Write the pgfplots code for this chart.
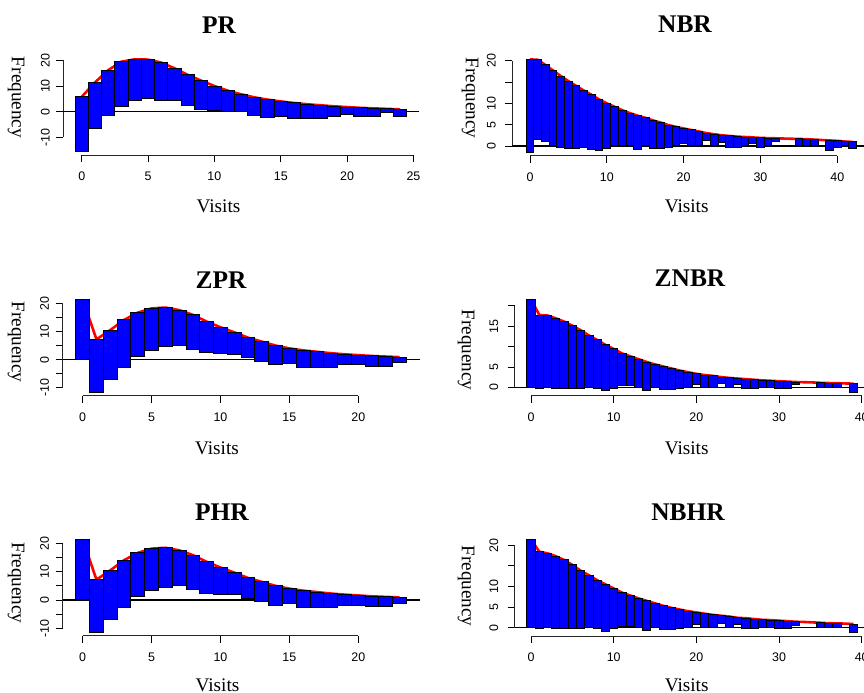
\documentclass[border=0pt]{standalone}
\usepackage{fontspec}
\setmainfont{Liberation Serif}
\newfontfamily\tickfont{Liberation Sans}
\usepackage{pgfplots}
\pgfplotsset{compat=1.18}
\usepackage{pgfplotstable}

\pgfplotstableread{
k top bot
0 5.8 -15.6
1 11.4 -6.5
2 16.2 -1.3
3 19.5 1.9
4 20.4 4.5
5 20.3 5.2
6 19.1 4.5
7 16.9 4.2
8 14.3 2.6
9 12.1 1.0
10 10.0 0.6
11 8.2 0.0
12 6.8 0.0
13 5.6 -1.3
14 4.7 -2.2
15 4.0 -1.7
16 3.4 -2.7
17 2.9 -2.7
18 2.5 -2.7
19 2.1 -1.7
20 1.8 -0.9
21 1.5 -1.7
22 1.3 -1.7
23 1.1 -0.4
24 0.9 -1.7
}\PRtab

\pgfplotstableread{
k top bot
0 20.3 -1.5
1 20.2 1.6
2 19.0 1.0
3 17.7 0.0
4 16.4 -0.3
5 15.2 -0.5
6 14.1 -0.5
7 13.0 -0.3
8 12.0 -0.8
9 10.9 -1.1
10 10.0 -0.5
11 9.2 0.0
12 8.4 0.2
13 7.7 0.0
14 7.1 -0.8
15 6.6 0.0
16 6.0 -0.5
17 5.5 -0.5
18 4.9 -0.3
19 4.5 0.0
20 4.1 0.6
21 3.75 0.2
22 3.4 0.2
23 3.0 1.4
24 2.75 0.0
25 2.5 0.8
26 2.35 -0.3
27 2.2 -0.3
28 2.1 0.2
29 2.0 0.5
30 1.9 -0.3
31 1.85 0.0
32 1.8 1.0
33 1.75 1.75
34 1.7 1.7
35 1.65 0.2
36 1.6 0.2
37 1.5 0.2
38 1.4 1.4
39 1.3 -1.1
40 1.2 -0.4
41 1.05 0.2
42 0.95 -0.5
}\NBRtab

\pgfplotstableread{
k top bot
0 21.4 0.0
1 7.2 -11.7
2 10.5 -6.9
3 14.1 -2.7
4 16.7 1.2
5 18.2 3.2
6 18.5 4.6
7 17.6 5.1
8 15.9 3.7
9 13.5 2.4
10 11.5 2.1
11 9.7 1.8
12 7.8 0.7
13 6.4 -0.6
14 5.0 -1.9
15 4.0 -1.4
16 3.3 -2.7
17 2.8 -2.7
18 2.3 -2.7
19 1.9 -1.9
20 1.6 -1.9
21 1.3 -2.4
22 1.1 -2.4
23 0.9 -1.1
}\ZPRtab

\pgfplotstableread{
k top bot
0 21.6 0.0
1 17.7 -0.25
2 17.6 0.0
3 16.9 -0.25
4 16.1 -0.25
5 15.1 -0.25
6 14.0 -0.25
7 12.7 0.0
8 11.6 -0.25
9 10.4 -0.8
10 9.4 -0.25
11 8.3 0.4
12 7.6 0.4
13 6.9 0.0
14 6.2 -0.7
15 5.6 0.0
16 5.1 -0.5
17 4.6 -0.5
18 4.1 -0.25
19 3.7 0.0
20 3.3 0.7
21 3.0 0.0
22 2.8 0.0
23 2.5 1.0
24 2.3 0.0
25 2.15 0.7
26 2.0 -0.3
27 1.85 -0.3
28 1.7 0.0
29 1.6 0.0
30 1.5 -0.3
31 1.4 -0.3
32 1.3 0.6
33 1.25 1.25
34 1.2 1.2
35 1.1 0.0
36 1.05 0.0
37 1.0 0.0
38 0.95 0.95
39 0.9 -1.15
}\ZNBRtab

\pgfplotstableread{
k top bot
0 21.5 0.0
1 7.2 -11.6
2 10.5 -6.9
3 14.1 -2.7
4 16.7 1.2
5 18.2 3.2
6 18.5 4.6
7 17.6 5.1
8 15.9 3.7
9 13.5 2.4
10 11.5 2.1
11 9.7 1.8
12 7.8 0.7
13 6.4 -0.6
14 5.0 -1.9
15 4.0 -1.4
16 3.3 -2.7
17 2.8 -2.7
18 2.3 -2.7
19 1.9 -1.9
20 1.6 -1.9
21 1.3 -2.4
22 1.1 -2.4
23 0.9 -1.1
}\PHRtab

\pgfplotstableread{
k top bot
0 21.4 0.0
1 18.4 -0.25
2 18.0 0.0
3 17.3 -0.25
4 16.4 -0.25
5 15.2 -0.25
6 13.8 -0.25
7 12.7 0.0
8 11.5 -0.25
9 10.5 -0.8
10 9.5 -0.25
11 8.5 0.4
12 7.8 0.4
13 7.1 0.0
14 6.5 -0.7
15 5.9 0.0
16 5.3 -0.5
17 4.8 -0.5
18 4.4 -0.25
19 4.0 0.0
20 3.7 0.7
21 3.4 0.0
22 3.1 0.0
23 2.9 1.0
24 2.7 0.0
25 2.4 0.7
26 2.3 -0.3
27 2.1 -0.3
28 1.9 0.0
29 1.85 0.0
30 1.7 -0.3
31 1.6 -0.3
32 1.45 0.6
33 1.4 1.4
34 1.3 1.3
35 1.2 0.0
36 1.1 0.0
37 1.05 0.0
38 1.0 1.0
39 0.9 -1.2
}\NBHRtab

\tikzset{
  axline/.style={black!85, line width=0.9bp},
  zeroline/.style={black, line width=1.2bp},
}
\pgfplotsset{
  rootax/.style={
    scale only axis, anchor=south west,
    ybar stacked, stack negative=on previous, bar width=1, bar shift=0pt,
    enlargelimits=false,
    axis x line*=bottom, axis y line*=left,
    axis line style={draw=none},
    tick align=outside, major tick length=7bp,
    tick style={black, line width=0.8bp},
    minor tick num=0,
    scaled ticks=false,
    /pgf/number format/assume math mode=true,
    tick label style={font=\tickfont\fontsize{12.5}{14}\selectfont},
    xticklabel style={anchor=north, inner sep=0pt, yshift=-10bp},
    clip=false,
  },
  leftax/.style={yticklabel style={xshift=-6.4bp, rotate=90, anchor=south, inner sep=0pt}},
  rightax/.style={yticklabel style={xshift=-9bp, rotate=90, anchor=south, inner sep=0pt}},
  barbase/.style={draw=none, fill=none},
  barhang/.style={fill=blue, draw=black, line width=1bp},
  fitline/.style={red, line width=2.6bp, sharp plot, stack plots=false, mark=none},
}
\newcommand{\ttl}[1]{\bfseries\fontsize{25.5}{28}\selectfont #1}
\newcommand{\lbl}{\fontsize{19.3}{22}\selectfont}

\begin{document}
\begin{tikzpicture}[x=1bp, y=1bp]
\begin{scope}
\clip (0,0) rectangle (864,693);

% PR
\begin{axis}[rootax, leftax, at={(63.4bp,537.9bp)}, width=355.1bp, height=99.1bp,
  xmin=-1.38, xmax=25.38, ymin=-16.9, ymax=21.7,
  xtick={0,5,...,25}, ytick={-10,0,10,20}]
\addplot[barbase] table[x=k, y=bot] {\PRtab};
\addplot[barhang] table[x=k, y expr=\thisrow{top}-\thisrow{bot}] {\PRtab};
\addplot[fitline] table[x=k, y=top] {\PRtab};
\draw[zeroline] (axis cs:-1.38,0) -- (axis cs:25.38,0);
\draw[axline] (axis cs:0,-16.9) -- (axis cs:25,-16.9);
\draw[axline] (axis cs:-1.38,-10) -- (axis cs:-1.38,20);
\end{axis}

% NBR
\begin{axis}[rootax, rightax, at={(512bp,537.3bp)}, width=358.6bp, height=99.6bp,
  xmin=-2.34, xmax=44.34, ymin=-2.27, ymax=21.07,
  xtick={0,10,...,40}, ytick={0,5,10,15,20}, yticklabels={0,5,10,,20}]
\addplot[barbase] table[x=k, y=bot] {\NBRtab};
\addplot[barhang] table[x=k, y expr=\thisrow{top}-\thisrow{bot}] {\NBRtab};
\addplot[fitline] table[x=k, y=top] {\NBRtab};
\draw[zeroline] (axis cs:-2.34,0) -- (axis cs:44.34,0);
\draw[axline] (axis cs:0,-2.27) -- (axis cs:40,-2.27);
\draw[axline] (axis cs:-2.34,0) -- (axis cs:-2.34,20);
\end{axis}

% ZPR
\begin{axis}[rootax, leftax, at={(62.7bp,297.3bp)}, width=356.9bp, height=99.4bp,
  xmin=-1.45, xmax=24.45, ymin=-12.8, ymax=22.5,
  xtick={0,5,...,20}, ytick={-10,-5,...,20}, yticklabels={-10,,0,,10,,20}]
\addplot[barbase] table[x=k, y=bot] {\ZPRtab};
\addplot[barhang] table[x=k, y expr=\thisrow{top}-\thisrow{bot}] {\ZPRtab};
\addplot[fitline] table[x=k, y=top] {\ZPRtab};
\draw[zeroline] (axis cs:-1.45,0) -- (axis cs:24.45,0);
\draw[axline] (axis cs:0,-12.8) -- (axis cs:20,-12.8);
\draw[axline] (axis cs:-1.45,-10) -- (axis cs:-1.45,20);
\end{axis}

% ZNBR
\begin{axis}[rootax, rightax, at={(514.5bp,297.1bp)}, width=355.5bp, height=100.6bp,
  xmin=-2.0, xmax=41.0, ymin=-2.1, ymax=22.55,
  xtick={0,10,...,40}, ytick={0,5,10,15,20}, yticklabels={0,5,,15,}]
\addplot[barbase] table[x=k, y=bot] {\ZNBRtab};
\addplot[barhang] table[x=k, y expr=\thisrow{top}-\thisrow{bot}] {\ZNBRtab};
\addplot[fitline] table[x=k, y=top] {\ZNBRtab};
\draw[zeroline] (axis cs:-2.0,0) -- (axis cs:41.0,0);
\draw[axline] (axis cs:0,-2.1) -- (axis cs:40,-2.1);
\draw[axline] (axis cs:-2.0,0) -- (axis cs:-2.0,20);
\end{axis}

% PHR
\begin{axis}[rootax, leftax, at={(62.7bp,57.3bp)}, width=356.9bp, height=99.2bp,
  xmin=-1.45, xmax=24.45, ymin=-12.65, ymax=22.5,
  xtick={0,5,...,20}, ytick={-10,-5,...,20}, yticklabels={-10,,0,,10,,20}]
\addplot[barbase] table[x=k, y=bot] {\PHRtab};
\addplot[barhang] table[x=k, y expr=\thisrow{top}-\thisrow{bot}] {\PHRtab};
\addplot[fitline] table[x=k, y=top] {\PHRtab};
\draw[zeroline] (axis cs:-1.45,0) -- (axis cs:24.45,0);
\draw[axline] (axis cs:0,-12.65) -- (axis cs:20,-12.65);
\draw[axline] (axis cs:-1.45,-10) -- (axis cs:-1.45,20);
\end{axis}

% NBHR
\begin{axis}[rootax, rightax, at={(514.5bp,57bp)}, width=355.5bp, height=100bp,
  xmin=-2.0, xmax=41.0, ymin=-2.0, ymax=22.2,
  xtick={0,10,...,40}, ytick={0,5,10,15,20}, yticklabels={0,5,10,,20}]
\addplot[barbase] table[x=k, y=bot] {\NBHRtab};
\addplot[barhang] table[x=k, y expr=\thisrow{top}-\thisrow{bot}] {\NBHRtab};
\addplot[fitline] table[x=k, y=top] {\NBHRtab};
\draw[zeroline] (axis cs:-2.0,0) -- (axis cs:41.0,0);
\draw[axline] (axis cs:0,-2.0) -- (axis cs:40,-2.0);
\draw[axline] (axis cs:-2.0,0) -- (axis cs:-2.0,20);
\end{axis}

% titles
\node[anchor=base] at (219,659) {\ttl{PR}};
\node[anchor=base] at (685,660) {\ttl{NBR}};
\node[anchor=base] at (221,404.5) {\ttl{ZPR}};
\node[anchor=base] at (690,406) {\ttl{ZNBR}};
\node[anchor=base] at (222,172) {\ttl{PHR}};
\node[anchor=base] at (688,172) {\ttl{NBHR}};
% x labels
\node[anchor=base] at (218.5,480) {\lbl Visits};
\node[anchor=base] at (686.7,480.7) {\lbl Visits};
\node[anchor=base] at (217,238) {\lbl Visits};
\node[anchor=base] at (686.7,238) {\lbl Visits};
\node[anchor=base] at (217.5,1.5) {\lbl Visits};
\node[anchor=base] at (686.7,1.8) {\lbl Visits};
% y labels
\node[rotate=-90] at (16,595.5) {\lbl Frequency};
\node[rotate=-90] at (470,595) {\lbl Frequency};
\node[rotate=-90] at (16,351) {\lbl Frequency};
\node[rotate=-90] at (466,343) {\lbl Frequency};
\node[rotate=-90] at (16,110) {\lbl Frequency};
\node[rotate=-90] at (466,107) {\lbl Frequency};
\end{scope}
\pgfresetboundingbox
\useasboundingbox (0,0) rectangle (864,693);
\end{tikzpicture}
\end{document}
